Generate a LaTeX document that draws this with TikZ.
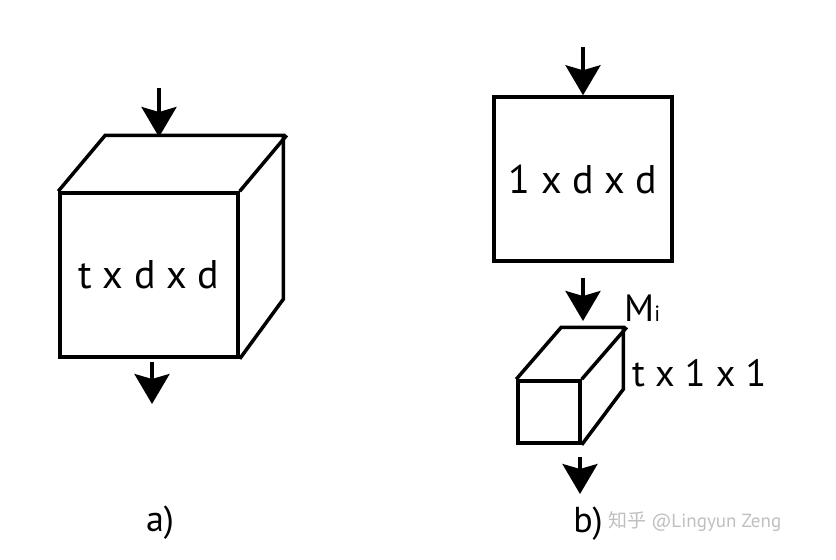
\documentclass[tikz,border=0pt]{standalone}
\usepackage{fontspec}
\setmainfont{PT Sans}
\newfontfamily\cjkfont{Noto Sans CJK SC}
\usetikzlibrary{arrows.meta,positioning}
\tikzset{
  face/.style={draw,line width=3.5pt,inner sep=0pt,font=\fontsize{40}{40}\selectfont},
  edge/.style={line width=3.5pt,line join=miter},
  flow/.style={line width=3.5pt,-{Stealth[length=30pt,width=35pt,inset=5pt]}},
  dim/.style={inner sep=0pt,font=\fontsize{38}{38}\selectfont},
  tag/.style={inner sep=0pt,font=\fontsize{36}{36}\selectfont},
}
\begin{document}
\begin{tikzpicture}[x=1pt,y=-1pt]
	\useasboundingbox (0,0) rectangle (836,560);
	% a) grosser Block
	\node[face,minimum width=178pt,minimum height=164pt] (cubeA) at (149,275) {t x d x d};
	\draw[edge] (cubeA.north west) -- ++(47,-56) -- ++(178,0) -- ++(0,164) -- (cubeA.south east);
	\draw[edge] (cubeA.north east) -- ++(47,-56);
	\coordinate (inA) at (159,88);
	\coordinate (topA) at (159,137);
	\coordinate (outA) at (152,362);
	\coordinate (endA) at (152,404);
	\draw[flow] (inA) -- (topA);
	\draw[flow] (outA) -- (endA);
	\node[tag] (labA) at (160,523) {a)};
	% b) Scheibe und Saeule
	\node[face,minimum width=178pt,minimum height=164pt] (slice) at (583,179) {1 x d x d};
	\coordinate (inB) at (583,47);
	\draw[flow] (inB) -- (slice.north);
	\node[draw,line width=3.5pt,minimum width=62pt,minimum height=62pt] (tube) at (549,412) {};
	\draw[edge] (tube.north west) -- ++(45,-52) -- ++(62,0) -- ++(0,62) -- (tube.south east);
	\draw[edge] (tube.north east) -- ++(45,-52);
	\coordinate (midB) at (583,278);
	\coordinate (topB) at (583,321);
	\draw[flow] (midB) -- (topB);
	\coordinate (outB) at (580,457);
	\coordinate (endB) at (580,494);
	\draw[flow] (outB) -- (endB);
	\node[dim,anchor=west] (mask) at (624,308) {M{\fontsize{22}{22}\selectfont i}};
	\node[dim,anchor=west] (size) at (632,373) {t x 1 x 1};
	\node[tag] (labB) at (588,524) {b)};
	\node[inner sep=0pt,text=black!25,font=\fontsize{19}{19}\selectfont,anchor=west] (mark) at (608,522) {{\cjkfont 知乎} @Lingyun Zeng};
\end{tikzpicture}
\end{document}
